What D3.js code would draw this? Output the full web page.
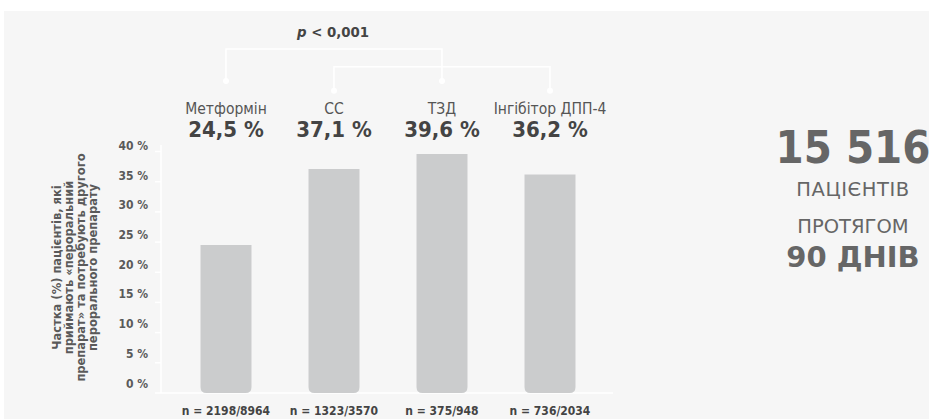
<!DOCTYPE html>
<html><head><meta charset="utf-8">
<script src="https://cdn.jsdelivr.net/npm/d3@7"></script>
<style>
html,body{margin:0;padding:0;background:#fff;}
svg{display:block;}
</style></head>
<body>
<svg id="c" width="929" height="419"></svg>
<script>
const categories = ["Метформін", "СС", "ТЗД", "Інгібітор ДПП-4"];
const values = [24.5, 37.1, 39.6, 36.2];
const valueLabels = ["24,5 %", "37,1 %", "39,6 %", "36,2 %"];
const nLabels = ["n = 2198/8964", "n = 1323/3570", "n = 375/948", "n = 736/2034"];
const yTicks = [0, 5, 10, 15, 20, 25, 30, 35, 40];
const yTitleLines = ["Частка (%) пацієнтів, які", "приймають «пероральний", "препарат» та потребують другого", "перорального препарату"];
const brackets = [["Метформін", "ТЗД"], ["СС", "Інгібітор ДПП-4"]];
const sideLines = ["15 516", "ПАЦІЄНТІВ", "ПРОТЯГОМ", "90 ДНІВ"];

const FONT = "'DejaVu Sans Condensed','DejaVu Sans',sans-serif";
const WIDE = "'DejaVu Sans',sans-serif";
const svg = d3.select("#c");

// panel
svg.append("rect").attr("x", 4).attr("y", 11).attr("width", 925).attr("height", 408).attr("fill", "#f6f6f6");

const x = d3.scalePoint().domain(categories).range([226, 550]);
const y = d3.scaleLinear().domain([0, 40]).range([393, 151.5]);
const bw = 51, r = 6;

// axis lines
svg.append("line").attr("x1", 161).attr("x2", 161).attr("y1", 145).attr("y2", y(0))
  .attr("stroke", "#fff").attr("stroke-width", 1.5);
svg.append("line").attr("x1", 161).attr("x2", 613).attr("y1", y(0)).attr("y2", y(0))
  .attr("stroke", "#fff").attr("stroke-width", 1.5);

const yAxis = svg.append("g");
yAxis.selectAll("line").data(yTicks).join("line")
  .attr("x1", 155).attr("x2", 161).attr("y1", d => y(d)).attr("y2", d => y(d))
  .attr("stroke", "#fff").attr("stroke-width", 1.5);
yAxis.selectAll("text").data(yTicks).join("text")
  .attr("x", 148).attr("y", d => y(d) - 9.5 + d * 0.09)
  .attr("dy", "0.35em").attr("text-anchor", "end")
  .attr("font-family", FONT).attr("font-weight", "bold").attr("font-size", 12)
  .attr("fill", "#5a5a5a").text(d => d + " %");

// y title
const yt = svg.append("text").attr("transform", "translate(75,267.5) rotate(-90)")
  .attr("text-anchor", "middle").attr("font-family", WIDE).attr("font-weight", "bold")
  .attr("font-size", 11.5).attr("fill", "#5a5a5a");
yTitleLines.forEach((t, i) => {
  yt.append("tspan").attr("x", 0).attr("y", (i - 1.5) * 12.3).attr("dy", "0.35em").text(t);
});

// bars
function barPath(cx, top, bottom) {
  const x0 = cx - bw / 2, x1 = cx + bw / 2;
  return `M${x0},${top}H${x1}V${bottom - r}Q${x1},${bottom} ${x1 - r},${bottom}H${x0 + r}Q${x0},${bottom} ${x0},${bottom - r}Z`;
}
svg.append("g").selectAll("path").data(categories).join("path")
  .attr("d", (c, i) => barPath(x(c), y(values[i]), y(0)))
  .attr("fill", "#cbcccd");

// category names and values
svg.append("g").selectAll("text").data(categories).join("text")
  .attr("x", c => x(c)).attr("y", 113.5).attr("text-anchor", "middle")
  .attr("font-family", FONT).attr("font-size", 15.5).attr("fill", "#555").text(c => c);
svg.append("g").selectAll("text").data(categories).join("text")
  .attr("x", c => x(c)).attr("y", 137).attr("text-anchor", "middle")
  .attr("font-family", FONT).attr("font-weight", "bold").attr("font-size", 22)
  .attr("fill", "#444").text((c, i) => valueLabels[i]);
// n labels
svg.append("g").selectAll("text").data(categories).join("text")
  .attr("x", c => x(c)).attr("y", 414.5).attr("text-anchor", "middle")
  .attr("font-family", FONT).attr("font-weight", "bold").attr("font-size", 12)
  .attr("fill", "#444").text((c, i) => nLabels[i]);

// brackets
const topY = [49, 66.7], dotY = [81, 90.7];
const bg = svg.append("g");
brackets.forEach((b, i) => {
  const xa = x(b[0]), xb = x(b[1]);
  bg.append("path").attr("d", `M${xa},${dotY[i]}V${topY[i]}H${xb}V${dotY[i]}`)
    .attr("fill", "none").attr("stroke", "#fff").attr("stroke-width", 1.6);
  [xa, xb].forEach(xx => bg.append("circle").attr("cx", xx).attr("cy", dotY[i]).attr("r", 3).attr("fill", "#fff"));
});

// p-value
const pt = svg.append("text").attr("x", 333).attr("y", 37).attr("text-anchor", "middle")
  .attr("font-family", FONT).attr("font-weight", "bold").attr("font-size", 14.8).attr("fill", "#444");
pt.append("tspan").attr("font-style", "italic").text("p");
pt.append("tspan").text(" < 0,001");

// side text
const side = svg.append("g").attr("fill", "#666").attr("text-anchor", "middle");
side.append("text").attr("x", 853).attr("y", 163.3).attr("font-family", FONT).attr("font-weight", "bold").attr("font-size", 45).text(sideLines[0]);
side.append("text").attr("x", 853).attr("y", 196).attr("font-family", WIDE).attr("font-size", 19.5).attr("letter-spacing", 0.6).text(sideLines[1]);
side.append("text").attr("x", 853).attr("y", 232.7).attr("font-family", WIDE).attr("font-size", 19.5).text(sideLines[2]);
side.append("text").attr("x", 853).attr("y", 266.7).attr("font-family", WIDE).attr("font-weight", "bold").attr("font-size", 29).text(sideLines[3]);
</script>
</body></html>
